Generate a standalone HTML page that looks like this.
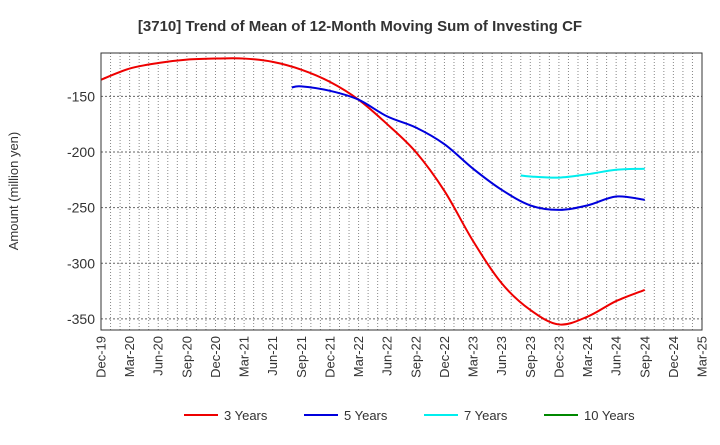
<!DOCTYPE html>
<html><head><meta charset="utf-8"><style>
body{margin:0;background:#fff;font-family:"Liberation Sans",sans-serif}
</style></head><body>
<svg id="c" width="720" height="440" xmlns="http://www.w3.org/2000/svg">
<text x="360" y="31" text-anchor="middle" font-size="15" font-weight="bold" fill="#333">[3710]  Trend of Mean of 12-Month Moving Sum of Investing CF</text>
<text transform="translate(18,191) rotate(-90)" text-anchor="middle" font-size="13" fill="#333">Amount (million yen)</text>
<g id="grid"></g><g id="series"></g><g id="axes"></g><g id="legend"></g>
</svg>
<script>
const xLabels=["Dec-19","Mar-20","Jun-20","Sep-20","Dec-20","Mar-21","Jun-21","Sep-21","Dec-21","Mar-22","Jun-22","Sep-22","Dec-22","Mar-23","Jun-23","Sep-23","Dec-23","Mar-24","Jun-24","Sep-24","Dec-24","Mar-25"];
const yTicks=[-150,-200,-250,-300,-350];
const s3m=[0,3,6,9,12,15,18,21,24,27,30,33,36,39,42,45,48,51,54,57];
const s3v=[-135,-125,-120,-117,-116,-116,-119,-126,-137,-153,-175,-200,-235,-280,-318,-342,-355,-348,-334,-324];
const s5m=[20,21,24,27,30,33,36,39,42,45,48,51,54,57];
const s5v=[-142,-141,-145,-153,-168,-178,-193,-215,-234,-248,-252,-248,-240,-243];
const s7m=[44,45,48,51,54,57];
const s7v=[-221,-222,-223,-220,-216,-215];
const s10m=[];const s10v=[];
const L=101,R=702,T=53,B=330,yMin=-360,yMax=-111,nM=63;
const X=m=>L+(R-L)*m/nM, Y=v=>T+(B-T)*(yMax-v)/(yMax-yMin);
const NS="http://www.w3.org/2000/svg";
function mk(p,t,a){const e=document.createElementNS(NS,t);for(const k in a)e.setAttribute(k,a[k]);document.getElementById(p).appendChild(e);return e;}
for(let m=1;m<nM;m++){const e=mk('grid','line',{x1:X(m),x2:X(m),y1:T,y2:B,stroke:'#888','stroke-dasharray':'1,2','stroke-width':1});

}
yTicks.forEach(v=>{const e=mk('grid','line',{x1:L,x2:R,y1:Y(v),y2:Y(v),stroke:'#666','stroke-dasharray':'2,2'});


const t=mk('axes','text',{x:L-6,y:Y(v)+5,'text-anchor':'end','font-size':14,fill:'#333'});t.textContent=v;

});
const fr=mk('axes','rect',{x:L,y:T,width:R-L,height:B-T,fill:'none',stroke:'#333'});


xLabels.forEach((s,i)=>{const x=X(i*3);const t=mk('axes','text',{transform:`translate(${x+4.5},${B+6}) rotate(-90)`,'text-anchor':'end','font-size':13,fill:'#333'});t.textContent=s;

});
function path(ms,vs){const p=ms.map((m,i)=>[X(m),Y(vs[i])]);if(!p.length)return'';let d=`M${p[0][0]},${p[0][1]}`;
for(let i=0;i<p.length-1;i++){const p0=p[i-1]||p[i],p1=p[i],p2=p[i+1],p3=p[i+2]||p2;
d+=` C${p1[0]+(p2[0]-p0[0])/6},${p1[1]+(p2[1]-p0[1])/6} ${p2[0]-(p3[0]-p1[0])/6},${p2[1]-(p3[1]-p1[1])/6} ${p2[0]},${p2[1]}`;}return d;}
const ser=[[s3m,s3v,'#ee0000','3 Years','series-3-years'],[s5m,s5v,'#0000dd','5 Years','series-5-years'],[s7m,s7v,'#00eeee','7 Years','series-7-years'],[s10m,s10v,'#008800','10 Years','series-10-years']];
ser.forEach((s,i)=>{if(s[0].length){const e=mk('series','path',{d:path(s[0],s[1]),fill:'none',stroke:s[2],'stroke-width':2});

}
const lx=[184,304,424,544][i];
const ln=mk('legend','line',{x1:lx,x2:lx+34,y1:415,y2:415,stroke:s[2],'stroke-width':2});


const t=mk('legend','text',{x:lx+40,y:420,'font-size':13,fill:'#333'});t.textContent=s[3];

});
</script>
</body></html>
